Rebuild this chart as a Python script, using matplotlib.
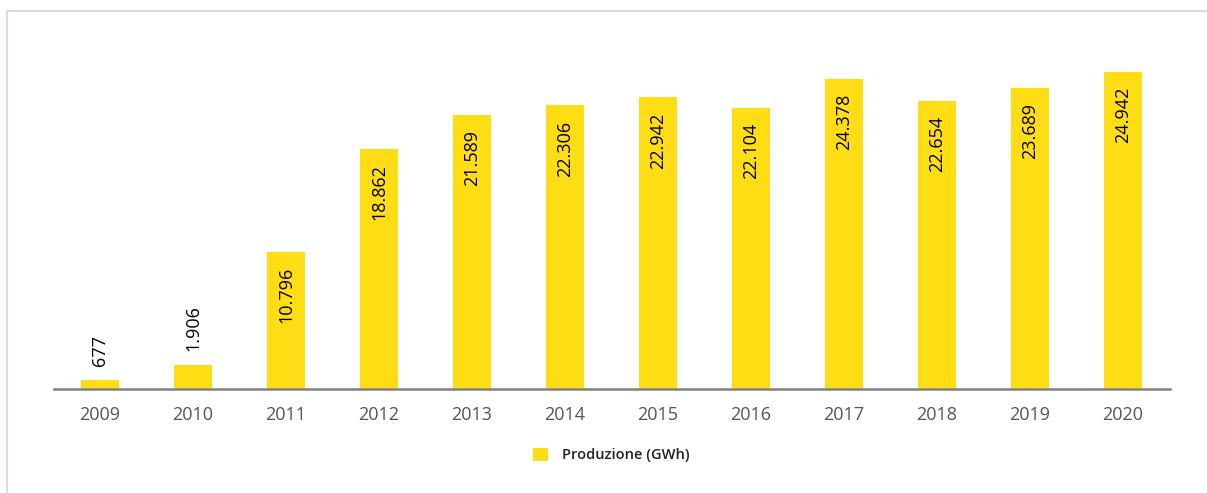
import matplotlib.pyplot as plt
from matplotlib.patches import Rectangle

anni = ['2009', '2010', '2011', '2012', '2013', '2014', '2015', '2016', '2017', '2018', '2019', '2020']
produzione = [677, 1906, 10796, 18862, 21589, 22306, 22942, 22104, 24378, 22654, 23689, 24942]
etichette = ['677', '1.906', '10.796', '18.862', '21.589', '22.306', '22.942', '22.104', '24.378', '22.654', '23.689', '24.942']
nome_serie = 'Produzione (GWh)'

giallo = '#FFDD15'
plt.rcParams['font.family'] = ['Open Sans', 'DejaVu Sans']

W, H = 1207, 493
fig = plt.figure(figsize=(W / 100, H / 100), dpi=100)

# cornice grigia (solo lati sinistro e superiore visibili)
fig.patches.append(Rectangle((7 / W, -0.1), 1.2, 1.1 - 11.5 / H, transform=fig.transFigure,
                             fill=False, edgecolor='#dcdcdc', linewidth=1.5))

# asse: baseline y=389, x da 53 a 1169
ax = fig.add_axes([53.5 / W, 1 - 389 / H, (1169.5 - 53.5) / W, (389 - 33) / H])
x = range(len(anni))
bars = ax.bar(x, produzione, width=0.4, color=giallo, zorder=2)
ax.set_xlim(-0.5, len(anni) - 0.5)
ax.set_ylim(0, 28000)

px = 28000 / 356  # valore per pixel
for i, (v, t) in enumerate(zip(produzione, etichette)):
    if v < 5000:
        ax.text(i, v + 14 * px, t, rotation=90, ha='center', va='bottom', fontsize=13,
                fontweight='medium', color='#000000')
    else:
        ax.text(i, v - 15 * px, t, rotation=90, ha='center', va='top', fontsize=13,
                fontweight='medium', color='#000000')

for s in ['top', 'right', 'left']:
    ax.spines[s].set_visible(False)
ax.spines['bottom'].set_color('#808080')
ax.spines['bottom'].set_linewidth(1.8)
ax.set_yticks([])
ax.set_xticks(list(x))
ax.set_xticklabels(anni, fontsize=13, color='#555555')
ax.tick_params(axis='x', length=0, pad=12)

leg = ax.legend([bars], [nome_serie], loc='center', bbox_to_anchor=(0.5, 1 - (455 - 33) / 356),
                frameon=False, handlelength=1.0, handleheight=1.0, handletextpad=1.0,
                prop={'size': 10.5, 'weight': 'semibold'})
for t in leg.get_texts():
    t.set_color('#222222')

fig.savefig('out.png', dpi=100)
